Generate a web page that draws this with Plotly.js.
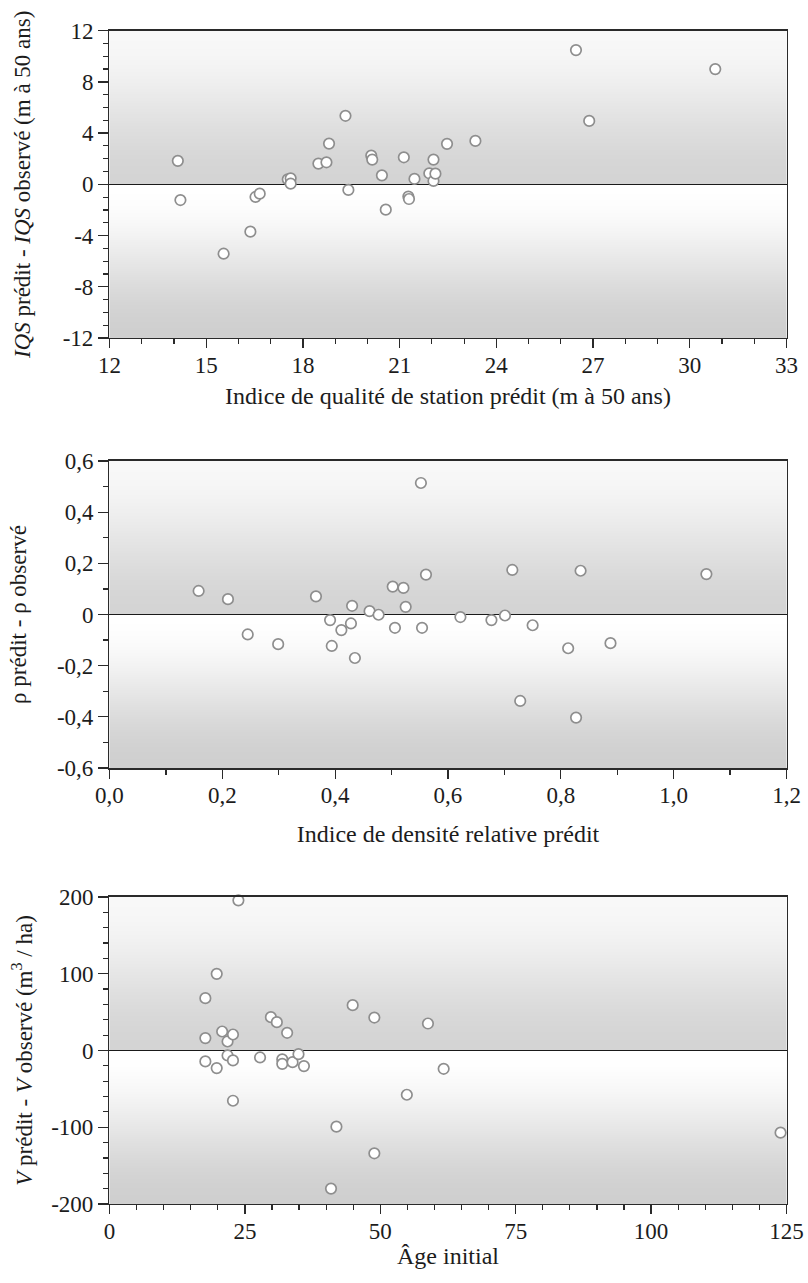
<!DOCTYPE html>
<html>
<head>
<meta charset="utf-8">
<script src="https://cdn.plot.ly/plotly-3.0.1.min.js"></script>
<style>
  html, body { margin: 0; padding: 0; background: #ffffff; }
  #chart { width: 808px; height: 1283px; }
</style>
</head>
<body>
<div id="chart"></div>
<script>
// Site index: predicted value vs. residual (m at 50 years)
const iqsPredit = [14.12, 14.20, 15.54, 16.37, 16.53, 16.66, 17.53, 17.62, 17.62, 18.48,
  18.73, 18.81, 19.32, 19.41, 20.12, 20.15, 20.45, 20.57, 21.13, 21.27, 21.29, 21.46,
  21.92, 22.05, 22.05, 22.11, 22.47, 23.35, 26.47, 26.88, 30.79];
const iqsEcart = [1.83, -1.23, -5.42, -3.70, -0.99, -0.73, 0.39, 0.47, 0.05, 1.62,
  1.72, 3.18, 5.35, -0.44, 2.24, 1.93, 0.70, -1.98, 2.11, -0.96, -1.15, 0.42,
  0.86, 1.93, 0.26, 0.83, 3.16, 3.39, 10.48, 4.95, 9.0];

// Relative density index: predicted value vs. residual
const rhoPredit = [0.158, 0.210, 0.245, 0.299, 0.366, 0.391, 0.394, 0.411, 0.428, 0.430,
  0.435, 0.461, 0.477, 0.502, 0.506, 0.521, 0.525, 0.552, 0.554, 0.561, 0.622, 0.677,
  0.701, 0.714, 0.728, 0.750, 0.813, 0.827, 0.835, 0.888, 1.058];
const rhoEcart = [0.092, 0.060, -0.078, -0.116, 0.071, -0.022, -0.123, -0.061, -0.035, 0.034,
  -0.170, 0.013, -0.001, 0.109, -0.052, 0.104, 0.030, 0.514, -0.052, 0.156, -0.010, -0.022,
  -0.004, 0.174, -0.338, -0.042, -0.132, -0.403, 0.171, -0.112, 0.158];

// Volume residual (m3/ha) against initial stand age
const ageInitial = [23.8, 19.8, 17.7, 17.7, 17.7, 19.8, 20.8, 21.8, 21.8, 22.8, 22.8, 22.8,
  27.8, 29.8, 30.9, 31.9, 31.9, 32.8, 33.8, 34.9, 35.9, 40.9, 41.9, 44.9, 48.9, 48.9,
  54.9, 58.8, 61.7, 123.9];
const volEcart = [195.6, 99.8, 68.1, 16.1, -14.3, -23.0, 24.7, 11.7, -6.5, 20.8, -13.0, -65.5,
  -9.1, 43.4, 36.9, -11.7, -17.4, 23.0, -15.2, -4.8, -20.4, -180.0, -99.3, 59.0, 42.9, -134.0,
  -57.7, 35.1, -23.9, -107.1];

// Tick values and labels
const x1Ticks = [12, 15, 18, 21, 24, 27, 30, 33];
const x1Text = ['12', '15', '18', '21', '24', '27', '30', '33'];
const y1Ticks = [12, 8, 4, 0, -4, -8, -12];
const y1Text = ['12', '8', '4', '0', '-4', '-8', '-12'];
const x2Ticks = [0, 0.2, 0.4, 0.6, 0.8, 1.0, 1.2];
const x2Text = ['0,0', '0,2', '0,4', '0,6', '0,8', '1,0', '1,2'];
const y2Ticks = [0.6, 0.4, 0.2, 0, -0.2, -0.4, -0.6];
const y2Text = ['0,6', '0,4', '0,2', '0', '-0,2', '-0,4', '-0,6'];
const x3Ticks = [0, 25, 50, 75, 100, 125];
const x3Text = ['0', '25', '50', '75', '100', '125'];
const y3Ticks = [200, 100, 0, -100, -200];
const y3Text = ['200', '100', '0', '-100', '-200'];

const FONT = '"Liberation Serif", "Times New Roman", serif';
const INK = '#1c1c1c';
const AXIS = '#2a2a2a';
const TICK_SIZE = 23;
const TITLE_SIZE = 24;
const YTITLE_SIZE = 23;

const marker = {
  symbol: 'circle', size: 10.5, color: '#ffffff',
  line: { color: '#8e8e8e', width: 1.7 }
};

function scatter(x, y, xa, ya) {
  return { type: 'scatter', mode: 'markers', x: x, y: y, xaxis: xa, yaxis: ya,
           marker: marker, cliponaxis: false, hoverinfo: 'x+y', showlegend: false };
}

const traces = [
  scatter(iqsPredit, iqsEcart, 'x', 'y'),
  scatter(rhoPredit, rhoEcart, 'x2', 'y2'),
  scatter(ageInitial, volEcart, 'x3', 'y3')
];

// Shaded backdrop painted once on a canvas: the upper half darkens toward the
// zero line, the lower half starts white at zero and darkens toward the bottom.
function backdrop() {
  const h = 600, w = 8;
  const cv = document.createElement('canvas');
  cv.width = w; cv.height = h;
  const ctx = cv.getContext('2d');
  const smooth = t => t * t * (3 - 2 * t);
  for (let r = 0; r < h; r++) {
    let g;
    if (r < h / 2) {
      const t = r / (h / 2);
      g = 248 + (212 - 248) * smooth(t);
    } else {
      const t = (r - h / 2) / (h / 2);
      g = 255 + (207 - 255) * smooth(t);
    }
    g = Math.round(g);
    ctx.fillStyle = 'rgb(' + g + ',' + g + ',' + g + ')';
    ctx.fillRect(0, r, w, 1);
  }
  return cv.toDataURL('image/png');
}
const bg = backdrop();
function bgImage(xa, ya) {
  return { source: bg, xref: xa + ' domain', yref: ya + ' domain', x: 0, y: 1,
           sizex: 1, sizey: 1, xanchor: 'left', yanchor: 'top',
           sizing: 'stretch', layer: 'below' };
}

const XDOM = [0.1355, 0.9734];

function xAxis(range, vals, text, minorDt, title, standoff, anchor) {
  return {
    domain: XDOM, range: range, anchor: anchor, fixedrange: true,
    showline: true, linecolor: AXIS, linewidth: 1.5, mirror: true,
    showgrid: false, zeroline: false,
    ticks: 'outside', ticklen: 9, tickwidth: 1.3, tickcolor: AXIS,
    ticklabelstandoff: -3,
    tickmode: 'array', tickvals: vals, ticktext: text,
    tickfont: { family: FONT, size: TICK_SIZE, color: INK },
    minor: { tickmode: 'linear', tick0: range[0], dtick: minorDt, ticks: 'outside',
             ticklen: 5, tickwidth: 1.2, tickcolor: AXIS, showgrid: false },
    title: { text: title, font: { family: FONT, size: TITLE_SIZE, color: INK }, standoff: standoff },
    automargin: false
  };
}
function yAxis(domain, range, vals, text, minorDt, title, standoff, anchor) {
  return {
    domain: domain, range: range, anchor: anchor, fixedrange: true,
    showline: true, linecolor: AXIS, linewidth: 1.5, mirror: true,
    showgrid: false, zeroline: true, zerolinecolor: '#1a1a1a', zerolinewidth: 1.6,
    ticks: 'outside', ticklen: 10, tickwidth: 1.3, tickcolor: AXIS,
    tickmode: 'array', tickvals: vals, ticktext: text,
    tickfont: { family: FONT, size: TICK_SIZE, color: INK },
    minor: { tickmode: 'linear', tick0: range[0], dtick: minorDt, ticks: 'outside',
             ticklen: 5, tickwidth: 1.2, tickcolor: AXIS, showgrid: false },
    title: { text: title, font: { family: FONT, size: YTITLE_SIZE, color: INK }, standoff: standoff },
    automargin: false
  };
}

const layout = {
  width: 808, height: 1283,
  margin: { l: 0, r: 0, t: 0, b: 0 },
  paper_bgcolor: '#ffffff', plot_bgcolor: '#ffffff',
  showlegend: false,
  font: { family: FONT, color: INK },
  xaxis: xAxis([12, 33], x1Ticks, x1Text, 1,
    'Indice de qualité de station prédit (m à 50 ans)', 10, 'y'),
  yaxis: yAxis([0.7366, 0.9761], [-12, 12], y1Ticks, y1Text, 1,
    '<i>IQS</i> prédit - <i>IQS</i> observé (m à 50 ans)', 25, 'x'),
  xaxis2: xAxis([0, 1.2], x2Ticks, x2Text, 0.1,
    'Indice de densité relative prédit', 18, 'y2'),
  yaxis2: yAxis([0.4014, 0.6407], [-0.6, 0.6], y2Ticks, y2Text, 0.1,
    'ρ prédit - ρ observé', 24, 'x2'),
  xaxis3: xAxis([0, 125], x3Ticks, x3Text, 5,
    'Âge initial', 4, 'y3'),
  yaxis3: yAxis([0.0616, 0.3009], [-200, 200], y3Ticks, y3Text, 20,
    '<i>V</i> prédit - <i>V</i> observé (m<sup>3</sup> / ha)', 12, 'x3'),
  images: [bgImage('x', 'y'), bgImage('x2', 'y2'), bgImage('x3', 'y3')]
};

Plotly.newPlot('chart', traces, layout, { staticPlot: true, displayModeBar: false });
</script>
</body>
</html>
